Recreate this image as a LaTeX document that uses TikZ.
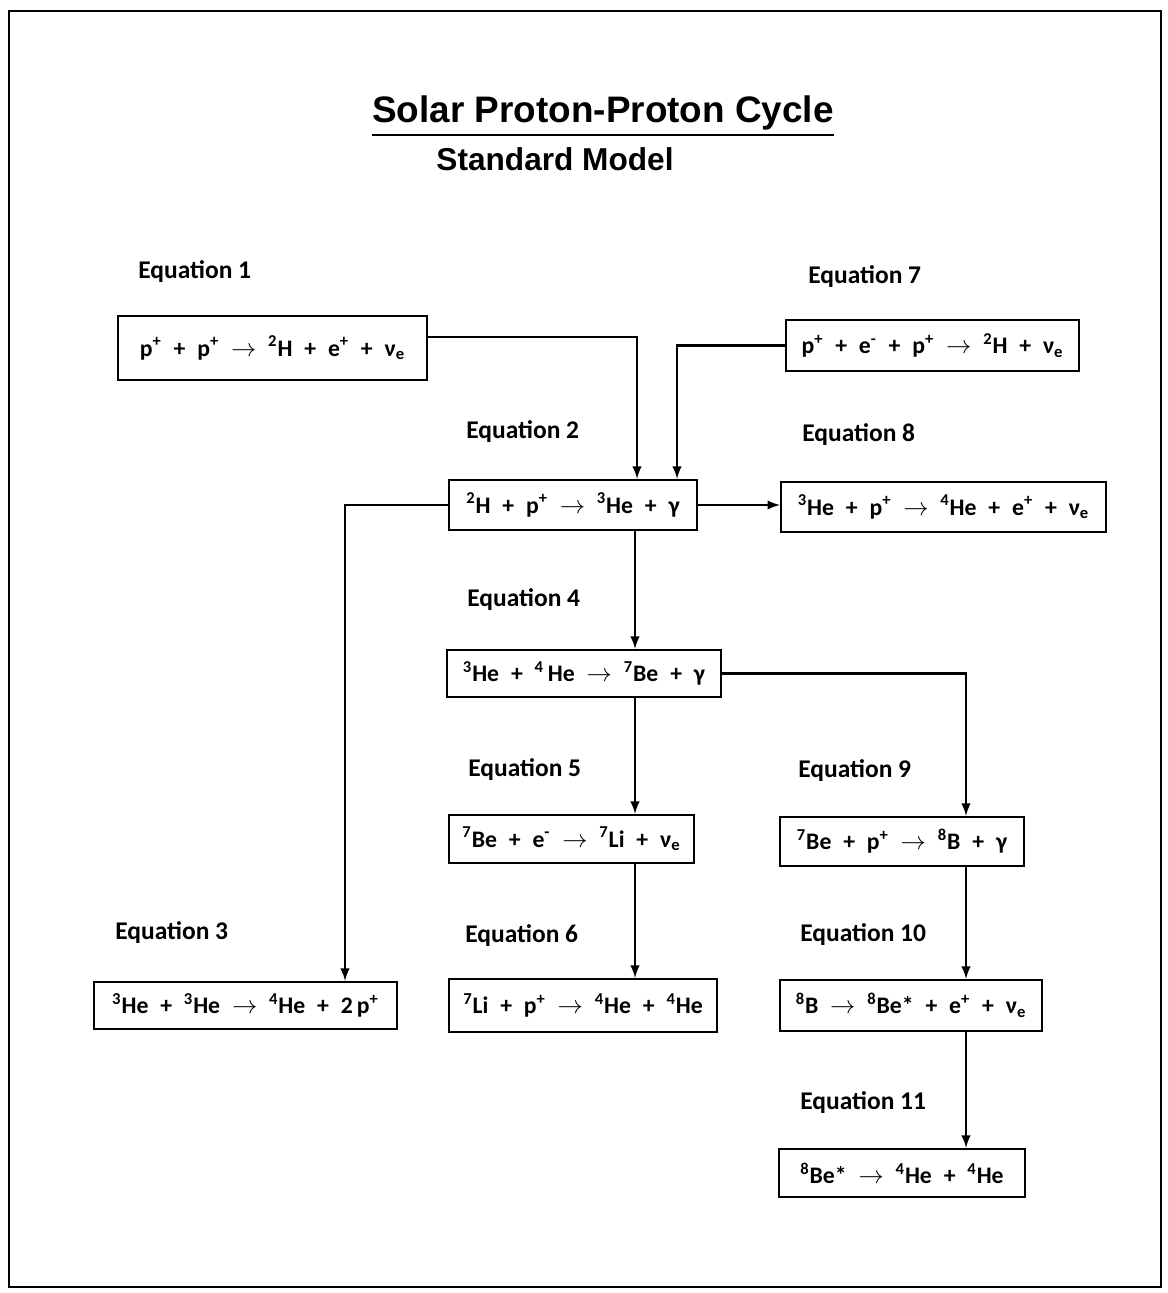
\documentclass[tikz,border=0pt]{standalone}
\usepackage{fontspec}
\setmainfont{Carlito}
\newfontfamily\titlefont{Liberation Sans}

\newcommand{\pl}{\enspace+\enspace}
\newcommand{\yields}{\enspace$\rightarrow$\enspace}
\newcommand{\iso}[2]{\textsuperscript{#1}#2}
\newcommand{\nue}{ν\textsubscript{e}}

\tikzset{
	eqbox/.style={draw=black, line width=1.4pt, inner sep=2pt,
		font=\fontsize{13.5}{16}\selectfont\bfseries},
	eqlabel/.style={anchor=west, inner sep=0pt,
		font=\fontsize{14.5}{17}\selectfont\bfseries},
	flow/.style={->, line width=1.4pt},
	>=latex
}

\begin{document}
\begin{tikzpicture}[x=0.02cm, y=-0.02cm]
	\useasboundingbox (0,0) rectangle (1167,1293);
	\draw[line width=1.2pt] (9,11) rectangle (1161,1287);

	% title
	\node[font=\titlefont\fontsize{21}{24}\selectfont\bfseries, inner sep=0pt] (title) at (603,113) {Solar Proton-Proton Cycle};
	\draw[line width=1.3pt] ([yshift=-2.5pt]title.south west) -- ([yshift=-2.5pt]title.south east);
	\node[font=\titlefont\fontsize{18}{21}\selectfont\bfseries, inner sep=0pt] (subtitle) at (555,159) {Standard Model};

	% equation labels
	\node[eqlabel] (labone)   at (138,272)  {Equation 1};
	\node[eqlabel] (labseven) at (808,277)  {Equation 7};
	\node[eqlabel] (labtwo)   at (466,432)  {Equation 2};
	\node[eqlabel] (labeight) at (802,435)  {Equation 8};
	\node[eqlabel] (labfour)  at (467,600)  {Equation 4};
	\node[eqlabel] (labfive)  at (468,770)  {Equation 5};
	\node[eqlabel] (labnine)  at (798,771)  {Equation 9};
	\node[eqlabel] (labthree) at (115,933)  {Equation 3};
	\node[eqlabel] (labsix)   at (465,936)  {Equation 6};
	\node[eqlabel] (labten)   at (800,935)  {Equation 10};
	\node[eqlabel] (labeleven) at (800,1103) {Equation 11};

	% reactions
	\node[eqbox, minimum width=6.18cm, minimum height=1.28cm] (eqone) at (272.5,348)
		{p\textsuperscript{+}\pl p\textsuperscript{+}\yields\iso{2}{H}\pl e\textsuperscript{+}\pl\nue};
	\node[eqbox, minimum width=5.86cm, minimum height=1.02cm] (eqseven) at (932.5,345.5)
		{p\textsuperscript{+}\pl e\textsuperscript{-}\pl p\textsuperscript{+}\yields\iso{2}{H}\pl\nue};
	\node[eqbox, minimum width=4.96cm, minimum height=1.0cm] (eqtwo) at (573,505)
		{\iso{2}{H}\pl p\textsuperscript{+}\yields\iso{3}{He}\pl γ};
	\node[eqbox, minimum width=6.5cm, minimum height=1.0cm] (eqeight) at (943.5,507)
		{\iso{3}{He}\pl p\textsuperscript{+}\yields\iso{4}{He}\pl e\textsuperscript{+}\pl\nue};
	\node[eqbox, minimum width=5.48cm, minimum height=0.94cm] (eqfour) at (584,673.5)
		{\iso{3}{He}\pl\iso{4}{\,He}\yields\iso{7}{Be}\pl γ};
	\node[eqbox, minimum width=4.9cm, minimum height=0.96cm] (eqfive) at (571.5,839)
		{\iso{7}{Be}\pl e\textsuperscript{-}\yields\iso{7}{Li}\pl\nue};
	\node[eqbox, minimum width=4.88cm, minimum height=0.98cm] (eqnine) at (902,841.5)
		{\iso{7}{Be}\pl p\textsuperscript{+}\yields\iso{8}{B}\pl γ};
	\node[eqbox, minimum width=6.06cm, minimum height=0.94cm] (eqthree) at (245.5,1005.5)
		{\iso{3}{He}\pl\iso{3}{He}\yields\iso{4}{He}\pl 2\,p\textsuperscript{+}};
	\node[eqbox, minimum width=5.36cm, minimum height=1.06cm] (eqsix) at (583,1005.5)
		{\iso{7}{Li}\pl p\textsuperscript{+}\yields\iso{4}{He}\pl\iso{4}{He}};
	\node[eqbox, minimum width=5.24cm, minimum height=1.02cm] (eqten) at (911,1005.5)
		{\iso{8}{B}\yields\iso{8}{Be*}\pl e\textsuperscript{+}\pl\nue};
	\node[eqbox, minimum width=4.92cm, minimum height=0.96cm] (eqeleven) at (902,1173)
		{\iso{8}{Be*}\yields\iso{4}{He}\pl\iso{4}{He}};

	% columns of the vertical connectors
	\coordinate (cola) at (637,0);
	\coordinate (colb) at (677,0);
	\coordinate (coll) at (345,0);
	\coordinate (colc) at (635,0);
	\coordinate (colr) at (966,0);

	\draw[flow] ([yshift=0.22cm]eqone.east) -| (eqtwo.north -| cola);
	\draw[flow] (eqseven.west) -| (eqtwo.north -| colb);
	\draw[flow] (eqtwo.west) -| (eqthree.north -| coll);
	\draw[flow] (eqtwo.east) -- (eqtwo.east -| eqeight.west);
	\draw[flow] (eqtwo.south -| colc) -- (eqfour.north -| colc);
	\draw[flow] (eqfour.south -| colc) -- (eqfive.north -| colc);
	\draw[flow] (eqfive.south -| colc) -- (eqsix.north -| colc);
	\draw[flow] (eqfour.east) -| (eqnine.north -| colr);
	\draw[flow] (eqnine.south -| colr) -- (eqten.north -| colr);
	\draw[flow] (eqten.south -| colr) -- (eqeleven.north -| colr);
\end{tikzpicture}
\end{document}
